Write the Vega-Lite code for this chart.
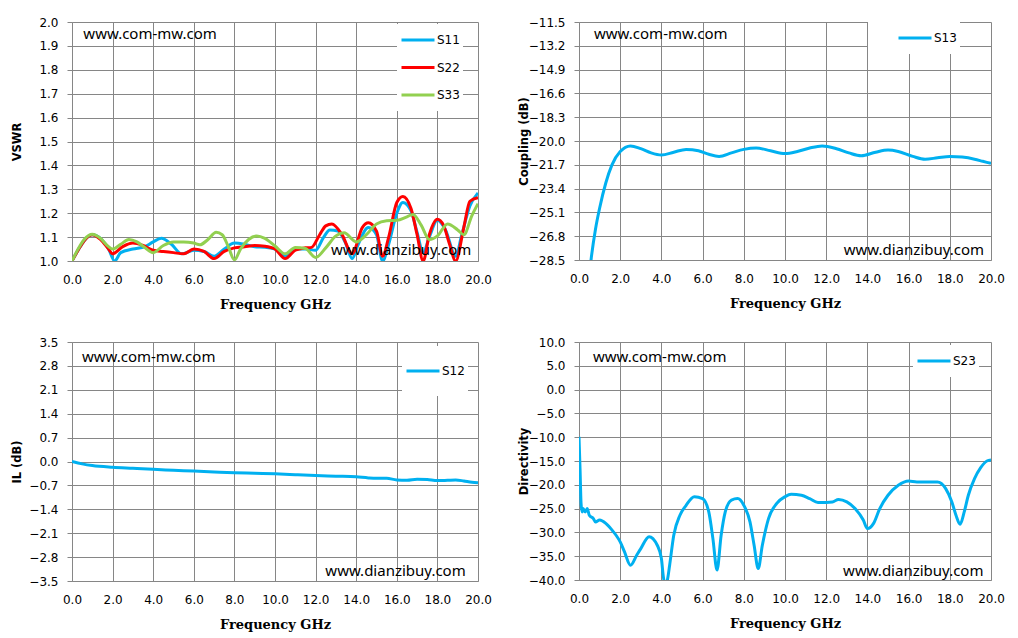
{
  "$schema": "https://vega.github.io/schema/vega-lite/v6.json",
  "background": "white",
  "padding": {"left": 11, "top": 16, "right": 10, "bottom": 10},
  "config": {
    "view": {"stroke": null},
    "axis": {
      "gridColor": "#868686",
      "gridWidth": 1,
      "gridOpacity": 1,
      "domainColor": "#868686",
      "tickColor": "#868686",
      "labelFont": "DejaVu Sans",
      "labelFontSize": 12,
      "labelColor": "#000000",
      "titleColor": "#000000",
      "tickCount": 30
    },
    "axisX": {
      "ticks": false,
      "labelPadding": 13,
      "labelFlush": false,
      "labelOverlap": false,
      "titleFont": "DejaVu Serif",
      "titleFontSize": 13,
      "titleFontWeight": "bold",
      "titlePadding": 13
    },
    "axisY": {
      "tickSize": 5,
      "labelPadding": 9,
      "labelOverlap": false,
      "minExtent": 45,
      "maxExtent": 45,
      "titleFont": "DejaVu Sans",
      "titleFontSize": 11.5,
      "titleFontWeight": "bold",
      "titlePadding": 5
    },
    "legend": {
      "orient": "none",
      "title": null,
      "fillColor": "white",
      "padding": 3,
      "symbolType": "stroke",
      "symbolSize": 1089,
      "symbolStrokeWidth": 3,
      "labelFont": "DejaVu Sans",
      "labelFontSize": 12,
      "labelColor": "#000000",
      "labelOffset": 1,
      "rowPadding": 1.5,
      "clipHeight": 26
    },
    "text": {"font": "Noto Sans", "fontSize": 15, "align": "left", "baseline": "middle", "color": "#000000"}
  },
  "datasets": {
    "vswr": [
      {"f": 0, "v": 1.0, "s": "S11"}, {"f": 0.3, "v": 1.045, "s": "S11"}, {"f": 0.6, "v": 1.085, "s": "S11"},
      {"f": 1.0, "v": 1.11, "s": "S11"}, {"f": 1.4, "v": 1.095, "s": "S11"}, {"f": 1.8, "v": 1.05, "s": "S11"},
      {"f": 2.1, "v": 1.0, "s": "S11"}, {"f": 2.4, "v": 1.035, "s": "S11"}, {"f": 3.0, "v": 1.05, "s": "S11"},
      {"f": 3.6, "v": 1.06, "s": "S11"}, {"f": 4.0, "v": 1.08, "s": "S11"}, {"f": 4.4, "v": 1.095, "s": "S11"},
      {"f": 4.9, "v": 1.07, "s": "S11"}, {"f": 5.4, "v": 1.03, "s": "S11"}, {"f": 6.0, "v": 1.045, "s": "S11"},
      {"f": 6.5, "v": 1.04, "s": "S11"}, {"f": 7.0, "v": 1.02, "s": "S11"}, {"f": 7.5, "v": 1.05, "s": "S11"},
      {"f": 8.0, "v": 1.075, "s": "S11"}, {"f": 8.5, "v": 1.07, "s": "S11"}, {"f": 9.0, "v": 1.06, "s": "S11"},
      {"f": 9.5, "v": 1.058, "s": "S11"}, {"f": 10.0, "v": 1.05, "s": "S11"}, {"f": 10.5, "v": 1.02, "s": "S11"},
      {"f": 11.0, "v": 1.05, "s": "S11"}, {"f": 11.5, "v": 1.05, "s": "S11"}, {"f": 12.0, "v": 1.045, "s": "S11"},
      {"f": 12.4, "v": 1.10, "s": "S11"}, {"f": 12.7, "v": 1.13, "s": "S11"}, {"f": 13.1, "v": 1.125, "s": "S11"},
      {"f": 13.5, "v": 1.07, "s": "S11"}, {"f": 13.8, "v": 1.01, "s": "S11"}, {"f": 14.1, "v": 1.07, "s": "S11"},
      {"f": 14.6, "v": 1.14, "s": "S11"}, {"f": 15.0, "v": 1.11, "s": "S11"}, {"f": 15.3, "v": 1.0, "s": "S11"},
      {"f": 15.6, "v": 1.07, "s": "S11"}, {"f": 16.0, "v": 1.20, "s": "S11"}, {"f": 16.3, "v": 1.245, "s": "S11"},
      {"f": 16.7, "v": 1.21, "s": "S11"}, {"f": 17.0, "v": 1.12, "s": "S11"}, {"f": 17.3, "v": 1.035, "s": "S11"},
      {"f": 17.6, "v": 1.10, "s": "S11"}, {"f": 18.0, "v": 1.17, "s": "S11"}, {"f": 18.4, "v": 1.13, "s": "S11"},
      {"f": 18.9, "v": 1.02, "s": "S11"}, {"f": 19.2, "v": 1.11, "s": "S11"}, {"f": 19.6, "v": 1.23, "s": "S11"},
      {"f": 20.0, "v": 1.285, "s": "S11"},

      {"f": 0, "v": 1.0, "s": "S22"}, {"f": 0.3, "v": 1.045, "s": "S22"}, {"f": 0.6, "v": 1.085, "s": "S22"},
      {"f": 1.0, "v": 1.11, "s": "S22"}, {"f": 1.4, "v": 1.09, "s": "S22"}, {"f": 1.8, "v": 1.05, "s": "S22"},
      {"f": 2.0, "v": 1.03, "s": "S22"}, {"f": 2.5, "v": 1.06, "s": "S22"}, {"f": 3.0, "v": 1.075, "s": "S22"},
      {"f": 3.5, "v": 1.065, "s": "S22"}, {"f": 4.0, "v": 1.045, "s": "S22"}, {"f": 4.5, "v": 1.04, "s": "S22"},
      {"f": 5.0, "v": 1.035, "s": "S22"}, {"f": 5.5, "v": 1.03, "s": "S22"}, {"f": 6.0, "v": 1.05, "s": "S22"},
      {"f": 6.5, "v": 1.04, "s": "S22"}, {"f": 7.0, "v": 1.01, "s": "S22"}, {"f": 7.5, "v": 1.04, "s": "S22"},
      {"f": 8.0, "v": 1.055, "s": "S22"}, {"f": 8.5, "v": 1.06, "s": "S22"}, {"f": 9.0, "v": 1.065, "s": "S22"},
      {"f": 9.5, "v": 1.062, "s": "S22"}, {"f": 10.0, "v": 1.05, "s": "S22"}, {"f": 10.5, "v": 1.01, "s": "S22"},
      {"f": 11.0, "v": 1.045, "s": "S22"}, {"f": 11.5, "v": 1.055, "s": "S22"}, {"f": 11.8, "v": 1.057, "s": "S22"},
      {"f": 12.2, "v": 1.11, "s": "S22"}, {"f": 12.5, "v": 1.147, "s": "S22"}, {"f": 12.8, "v": 1.155, "s": "S22"},
      {"f": 13.3, "v": 1.11, "s": "S22"}, {"f": 13.8, "v": 1.03, "s": "S22"}, {"f": 14.3, "v": 1.14, "s": "S22"},
      {"f": 14.6, "v": 1.16, "s": "S22"}, {"f": 15.0, "v": 1.125, "s": "S22"}, {"f": 15.3, "v": 1.02, "s": "S22"},
      {"f": 15.6, "v": 1.10, "s": "S22"}, {"f": 16.0, "v": 1.245, "s": "S22"}, {"f": 16.3, "v": 1.27, "s": "S22"},
      {"f": 16.7, "v": 1.22, "s": "S22"}, {"f": 17.0, "v": 1.11, "s": "S22"}, {"f": 17.3, "v": 1.0, "s": "S22"},
      {"f": 17.6, "v": 1.11, "s": "S22"}, {"f": 18.0, "v": 1.175, "s": "S22"}, {"f": 18.3, "v": 1.15, "s": "S22"},
      {"f": 18.6, "v": 1.07, "s": "S22"}, {"f": 18.9, "v": 1.0, "s": "S22"}, {"f": 19.3, "v": 1.14, "s": "S22"},
      {"f": 19.6, "v": 1.25, "s": "S22"}, {"f": 20.0, "v": 1.265, "s": "S22"},

      {"f": 0, "v": 1.0, "s": "S33"}, {"f": 0.3, "v": 1.05, "s": "S33"}, {"f": 0.6, "v": 1.09, "s": "S33"},
      {"f": 1.0, "v": 1.112, "s": "S33"}, {"f": 1.4, "v": 1.095, "s": "S33"}, {"f": 1.8, "v": 1.06, "s": "S33"},
      {"f": 2.0, "v": 1.05, "s": "S33"}, {"f": 2.4, "v": 1.07, "s": "S33"}, {"f": 2.8, "v": 1.09, "s": "S33"},
      {"f": 3.2, "v": 1.08, "s": "S33"}, {"f": 3.6, "v": 1.055, "s": "S33"}, {"f": 4.0, "v": 1.035, "s": "S33"},
      {"f": 4.5, "v": 1.065, "s": "S33"}, {"f": 5.0, "v": 1.08, "s": "S33"}, {"f": 5.5, "v": 1.08, "s": "S33"},
      {"f": 6.0, "v": 1.075, "s": "S33"}, {"f": 6.3, "v": 1.068, "s": "S33"}, {"f": 6.7, "v": 1.09, "s": "S33"},
      {"f": 7.1, "v": 1.12, "s": "S33"}, {"f": 7.4, "v": 1.11, "s": "S33"}, {"f": 7.7, "v": 1.06, "s": "S33"},
      {"f": 8.0, "v": 1.005, "s": "S33"}, {"f": 8.3, "v": 1.05, "s": "S33"}, {"f": 8.7, "v": 1.09, "s": "S33"},
      {"f": 9.1, "v": 1.105, "s": "S33"}, {"f": 9.5, "v": 1.095, "s": "S33"}, {"f": 10.0, "v": 1.063, "s": "S33"},
      {"f": 10.5, "v": 1.03, "s": "S33"}, {"f": 11.0, "v": 1.057, "s": "S33"}, {"f": 11.5, "v": 1.052, "s": "S33"},
      {"f": 12.0, "v": 1.015, "s": "S33"}, {"f": 12.5, "v": 1.055, "s": "S33"}, {"f": 13.0, "v": 1.105, "s": "S33"},
      {"f": 13.4, "v": 1.118, "s": "S33"}, {"f": 14.0, "v": 1.08, "s": "S33"}, {"f": 14.5, "v": 1.11, "s": "S33"},
      {"f": 15.0, "v": 1.155, "s": "S33"}, {"f": 15.5, "v": 1.168, "s": "S33"}, {"f": 16.0, "v": 1.17, "s": "S33"},
      {"f": 16.5, "v": 1.185, "s": "S33"}, {"f": 16.8, "v": 1.195, "s": "S33"}, {"f": 17.2, "v": 1.15, "s": "S33"},
      {"f": 17.6, "v": 1.09, "s": "S33"}, {"f": 18.0, "v": 1.105, "s": "S33"}, {"f": 18.5, "v": 1.155, "s": "S33"},
      {"f": 19.0, "v": 1.13, "s": "S33"}, {"f": 19.3, "v": 1.11, "s": "S33"}, {"f": 19.7, "v": 1.19, "s": "S33"},
      {"f": 20.0, "v": 1.24, "s": "S33"}
    ],
    "coupling": [
      {"f": 0.5, "v": -29.6, "s": "S13"}, {"f": 0.6, "v": -28.3, "s": "S13"}, {"f": 0.8, "v": -26.3, "s": "S13"},
      {"f": 1.0, "v": -24.8, "s": "S13"}, {"f": 1.3, "v": -23.0, "s": "S13"}, {"f": 1.6, "v": -21.7, "s": "S13"},
      {"f": 2.0, "v": -20.75, "s": "S13"}, {"f": 2.5, "v": -20.35, "s": "S13"}, {"f": 3.0, "v": -20.55, "s": "S13"},
      {"f": 3.5, "v": -20.85, "s": "S13"}, {"f": 4.0, "v": -21.0, "s": "S13"}, {"f": 4.6, "v": -20.8, "s": "S13"},
      {"f": 5.2, "v": -20.6, "s": "S13"}, {"f": 5.8, "v": -20.7, "s": "S13"}, {"f": 6.3, "v": -20.95, "s": "S13"},
      {"f": 6.8, "v": -21.1, "s": "S13"}, {"f": 7.4, "v": -20.85, "s": "S13"}, {"f": 8.0, "v": -20.6, "s": "S13"},
      {"f": 8.6, "v": -20.5, "s": "S13"}, {"f": 9.3, "v": -20.7, "s": "S13"}, {"f": 10.0, "v": -20.9, "s": "S13"},
      {"f": 10.6, "v": -20.75, "s": "S13"}, {"f": 11.2, "v": -20.5, "s": "S13"}, {"f": 11.8, "v": -20.35, "s": "S13"},
      {"f": 12.5, "v": -20.55, "s": "S13"}, {"f": 13.1, "v": -20.85, "s": "S13"}, {"f": 13.7, "v": -21.05, "s": "S13"},
      {"f": 14.4, "v": -20.8, "s": "S13"}, {"f": 15.0, "v": -20.65, "s": "S13"}, {"f": 15.5, "v": -20.75, "s": "S13"},
      {"f": 16.2, "v": -21.1, "s": "S13"}, {"f": 16.8, "v": -21.3, "s": "S13"}, {"f": 17.4, "v": -21.2, "s": "S13"},
      {"f": 18.0, "v": -21.1, "s": "S13"}, {"f": 18.6, "v": -21.15, "s": "S13"}, {"f": 19.2, "v": -21.3, "s": "S13"},
      {"f": 19.6, "v": -21.45, "s": "S13"}, {"f": 20.0, "v": -21.6, "s": "S13"}
    ],
    "il": [
      {"f": 0, "v": 0.0, "s": "S12"}, {"f": 0.5, "v": -0.07, "s": "S12"}, {"f": 1.0, "v": -0.12, "s": "S12"},
      {"f": 2.0, "v": -0.17, "s": "S12"}, {"f": 3.0, "v": -0.2, "s": "S12"}, {"f": 4.0, "v": -0.23, "s": "S12"},
      {"f": 5.0, "v": -0.255, "s": "S12"}, {"f": 6.0, "v": -0.28, "s": "S12"}, {"f": 7.0, "v": -0.305, "s": "S12"},
      {"f": 8.0, "v": -0.33, "s": "S12"}, {"f": 9.0, "v": -0.345, "s": "S12"}, {"f": 10.0, "v": -0.36, "s": "S12"},
      {"f": 11.0, "v": -0.385, "s": "S12"}, {"f": 12.0, "v": -0.41, "s": "S12"}, {"f": 13.0, "v": -0.43, "s": "S12"},
      {"f": 14.0, "v": -0.45, "s": "S12"}, {"f": 14.6, "v": -0.48, "s": "S12"}, {"f": 15.0, "v": -0.49, "s": "S12"},
      {"f": 15.5, "v": -0.49, "s": "S12"}, {"f": 16.0, "v": -0.54, "s": "S12"}, {"f": 16.5, "v": -0.55, "s": "S12"},
      {"f": 17.0, "v": -0.52, "s": "S12"}, {"f": 17.5, "v": -0.53, "s": "S12"}, {"f": 18.0, "v": -0.56, "s": "S12"},
      {"f": 18.5, "v": -0.55, "s": "S12"}, {"f": 18.9, "v": -0.54, "s": "S12"}, {"f": 19.3, "v": -0.57, "s": "S12"},
      {"f": 19.7, "v": -0.61, "s": "S12"}, {"f": 20.0, "v": -0.62, "s": "S12"}
    ],
    "directivity": [
      {"f": 0.0, "v": -9.9, "s": "S23"}, {"f": 0.05, "v": -16.6, "s": "S23"}, {"f": 0.1, "v": -23.9, "s": "S23"},
      {"f": 0.15, "v": -25.7, "s": "S23"}, {"f": 0.2, "v": -25.0, "s": "S23"}, {"f": 0.3, "v": -25.7, "s": "S23"},
      {"f": 0.4, "v": -25.0, "s": "S23"}, {"f": 0.5, "v": -26.4, "s": "S23"}, {"f": 0.7, "v": -27.1, "s": "S23"},
      {"f": 0.8, "v": -27.8, "s": "S23"}, {"f": 1.0, "v": -27.4, "s": "S23"}, {"f": 1.3, "v": -28.1, "s": "S23"},
      {"f": 1.6, "v": -29.5, "s": "S23"}, {"f": 1.8, "v": -30.6, "s": "S23"}, {"f": 2.0, "v": -32.0, "s": "S23"},
      {"f": 2.2, "v": -34.0, "s": "S23"}, {"f": 2.5, "v": -36.9, "s": "S23"}, {"f": 2.8, "v": -34.8, "s": "S23"},
      {"f": 3.0, "v": -33.4, "s": "S23"}, {"f": 3.4, "v": -30.9, "s": "S23"}, {"f": 3.8, "v": -32.7, "s": "S23"},
      {"f": 4.0, "v": -35.5, "s": "S23"}, {"f": 4.1, "v": -39.5, "s": "S23"}, {"f": 4.2, "v": -41.0, "s": "S23"},
      {"f": 4.3, "v": -39.8, "s": "S23"}, {"f": 4.4, "v": -36.9, "s": "S23"}, {"f": 4.6, "v": -30.6, "s": "S23"},
      {"f": 4.9, "v": -26.4, "s": "S23"}, {"f": 5.2, "v": -24.3, "s": "S23"}, {"f": 5.6, "v": -22.5, "s": "S23"},
      {"f": 6.0, "v": -22.9, "s": "S23"}, {"f": 6.3, "v": -25.7, "s": "S23"}, {"f": 6.5, "v": -31.3, "s": "S23"},
      {"f": 6.7, "v": -37.9, "s": "S23"}, {"f": 6.9, "v": -30.6, "s": "S23"}, {"f": 7.1, "v": -25.7, "s": "S23"},
      {"f": 7.4, "v": -23.2, "s": "S23"}, {"f": 7.7, "v": -22.9, "s": "S23"}, {"f": 8.0, "v": -24.3, "s": "S23"},
      {"f": 8.3, "v": -27.8, "s": "S23"}, {"f": 8.5, "v": -32.7, "s": "S23"}, {"f": 8.7, "v": -37.6, "s": "S23"},
      {"f": 8.9, "v": -32.7, "s": "S23"}, {"f": 9.2, "v": -27.1, "s": "S23"}, {"f": 9.6, "v": -23.9, "s": "S23"},
      {"f": 10.0, "v": -22.5, "s": "S23"}, {"f": 10.3, "v": -22.0, "s": "S23"}, {"f": 10.8, "v": -22.2, "s": "S23"},
      {"f": 11.2, "v": -22.9, "s": "S23"}, {"f": 11.6, "v": -23.7, "s": "S23"}, {"f": 12.0, "v": -23.7, "s": "S23"},
      {"f": 12.3, "v": -23.6, "s": "S23"}, {"f": 12.6, "v": -23.1, "s": "S23"}, {"f": 13.0, "v": -23.6, "s": "S23"},
      {"f": 13.4, "v": -25.0, "s": "S23"}, {"f": 13.8, "v": -27.4, "s": "S23"}, {"f": 14.0, "v": -29.2, "s": "S23"},
      {"f": 14.3, "v": -28.1, "s": "S23"}, {"f": 14.6, "v": -25.0, "s": "S23"}, {"f": 15.0, "v": -22.2, "s": "S23"},
      {"f": 15.5, "v": -20.1, "s": "S23"}, {"f": 16.0, "v": -19.2, "s": "S23"}, {"f": 16.4, "v": -19.4, "s": "S23"},
      {"f": 17.0, "v": -19.4, "s": "S23"}, {"f": 17.4, "v": -19.4, "s": "S23"}, {"f": 17.8, "v": -20.8, "s": "S23"},
      {"f": 18.1, "v": -23.6, "s": "S23"}, {"f": 18.3, "v": -26.4, "s": "S23"}, {"f": 18.5, "v": -28.3, "s": "S23"},
      {"f": 18.7, "v": -25.7, "s": "S23"}, {"f": 18.9, "v": -22.2, "s": "S23"}, {"f": 19.2, "v": -18.7, "s": "S23"},
      {"f": 19.5, "v": -16.4, "s": "S23"}, {"f": 19.8, "v": -15.0, "s": "S23"}, {"f": 20.0, "v": -14.8, "s": "S23"}
    ]
  },
  "columns": 2,
  "bounds": "flush",
  "align": "each",
  "spacing": {"row": 81, "column": 101},
  "resolve": {
    "scale": {"x": "independent", "y": "independent", "color": "independent"},
    "legend": {"color": "independent"}
  },
  "concat": [
    {
      "width": 406,
      "height": 239,
      "layer": [
        {
          "data": {"name": "vswr"},
          "mark": {"type": "line", "strokeWidth": 3, "interpolate": "monotone", "clip": true},
          "encoding": {
            "x": {"field": "f", "type": "quantitative", "title": "Frequency GHz",
              "scale": {"domain": [0, 20], "nice": false, "zero": false},
              "axis": {"values": [0, 2, 4, 6, 8, 10, 12, 14, 16, 18, 20], "format": ".1f"}},
            "y": {"field": "v", "type": "quantitative", "title": "VSWR",
              "scale": {"domain": [1, 2], "nice": false, "zero": false},
              "axis": {"values": [1.0, 1.1, 1.2, 1.3, 1.4, 1.5, 1.6, 1.7, 1.8, 1.9, 2.0], "format": ".1f"}},
            "color": {"field": "s", "type": "nominal",
              "scale": {"domain": ["S11", "S22", "S33"], "range": ["#00B0F0", "#FF0000", "#92D050"]},
              "legend": {"legendX": 325, "legendY": 2}}
          }
        },
        {
          "data": {"values": [
            {"f": 0.56, "v": 1.949, "label": "www.com-mw.com"},
            {"f": 12.76, "v": 1.047, "label": "www.dianzibuy.com"}
          ]},
          "mark": {"type": "text"},
          "encoding": {
            "x": {"field": "f", "type": "quantitative"},
            "y": {"field": "v", "type": "quantitative"},
            "text": {"field": "label"}
          }
        }
      ]
    },
    {
      "width": 412,
      "height": 238,
      "layer": [
        {
          "data": {"name": "coupling"},
          "mark": {"type": "line", "strokeWidth": 3, "interpolate": "monotone", "clip": true},
          "encoding": {
            "x": {"field": "f", "type": "quantitative", "title": "Frequency GHz",
              "scale": {"domain": [0, 20], "nice": false, "zero": false},
              "axis": {"values": [0, 2, 4, 6, 8, 10, 12, 14, 16, 18, 20], "format": ".1f"}},
            "y": {"field": "v", "type": "quantitative", "title": "Coupling (dB)",
              "scale": {"domain": [-28.5, -11.5], "nice": false, "zero": false},
              "axis": {"values": [-11.5, -13.2, -14.9, -16.6, -18.3, -20.0, -21.7, -23.4, -25.1, -26.8, -28.5], "format": ".1f"}},
            "color": {"field": "s", "type": "nominal",
              "scale": {"domain": ["S13"], "range": ["#00B0F0"]},
              "legend": {"legendX": 289, "legendY": 0, "symbolOffset": 26}}
          }
        },
        {
          "data": {"values": [
            {"f": 0.73, "v": -12.36, "label": "www.com-mw.com"},
            {"f": 12.85, "v": -27.81, "label": "www.dianzibuy.com"}
          ]},
          "mark": {"type": "text"},
          "encoding": {
            "x": {"field": "f", "type": "quantitative"},
            "y": {"field": "v", "type": "quantitative"},
            "text": {"field": "label"}
          }
        }
      ]
    },
    {
      "width": 406,
      "height": 239,
      "layer": [
        {
          "data": {"name": "il"},
          "mark": {"type": "line", "strokeWidth": 3, "interpolate": "monotone", "clip": true},
          "encoding": {
            "x": {"field": "f", "type": "quantitative", "title": "Frequency GHz",
              "scale": {"domain": [0, 20], "nice": false, "zero": false},
              "axis": {"values": [0, 2, 4, 6, 8, 10, 12, 14, 16, 18, 20], "format": ".1f"}},
            "y": {"field": "v", "type": "quantitative", "title": "IL (dB)",
              "scale": {"domain": [-3.5, 3.5], "nice": false, "zero": false},
              "axis": {"values": [3.5, 2.8, 2.1, 1.4, 0.7, 0, -0.7, -1.4, -2.1, -2.8, -3.5], "format": ".1f"}},
            "color": {"field": "s", "type": "nominal",
              "scale": {"domain": ["S12"], "range": ["#00B0F0"]},
              "legend": {"legendX": 330, "legendY": 4, "clipHeight": 44}}
          }
        },
        {
          "data": {"values": [
            {"f": 0.49, "v": 3.06, "label": "www.com-mw.com"},
            {"f": 12.48, "v": -3.22, "label": "www.dianzibuy.com"}
          ]},
          "mark": {"type": "text"},
          "encoding": {
            "x": {"field": "f", "type": "quantitative"},
            "y": {"field": "v", "type": "quantitative"},
            "text": {"field": "label"}
          }
        }
      ]
    },
    {
      "width": 412,
      "height": 238,
      "layer": [
        {
          "data": {"name": "directivity"},
          "mark": {"type": "line", "strokeWidth": 3, "interpolate": "monotone", "clip": true},
          "encoding": {
            "x": {"field": "f", "type": "quantitative", "title": "Frequency GHz",
              "scale": {"domain": [0, 20], "nice": false, "zero": false},
              "axis": {"values": [0, 2, 4, 6, 8, 10, 12, 14, 16, 18, 20], "format": ".1f"}},
            "y": {"field": "v", "type": "quantitative", "title": "Directivity",
              "scale": {"domain": [-40, 10], "nice": false, "zero": false},
              "axis": {"values": [10, 5, 0, -5, -10, -15, -20, -25, -30, -35, -40], "format": ".1f"}},
            "color": {"field": "s", "type": "nominal",
              "scale": {"domain": ["S23"], "range": ["#00B0F0"]},
              "legend": {"legendX": 334, "legendY": 3}}
          }
        },
        {
          "data": {"values": [
            {"f": 0.68, "v": 6.85, "label": "www.com-mw.com"},
            {"f": 12.82, "v": -38.03, "label": "www.dianzibuy.com"}
          ]},
          "mark": {"type": "text"},
          "encoding": {
            "x": {"field": "f", "type": "quantitative"},
            "y": {"field": "v", "type": "quantitative"},
            "text": {"field": "label"}
          }
        }
      ]
    }
  ]
}
